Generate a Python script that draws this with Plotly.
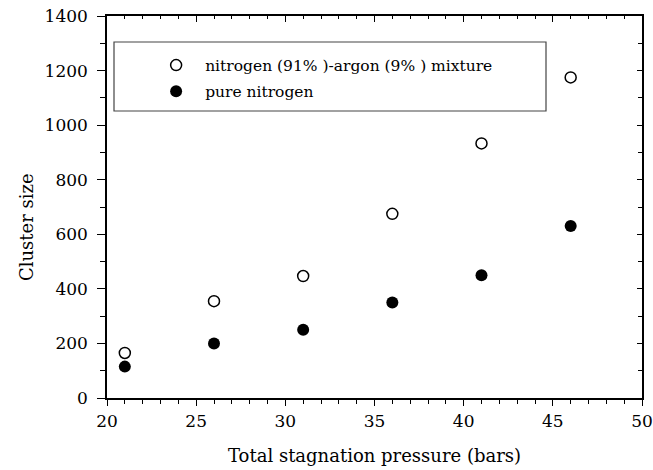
import plotly.graph_objects as go

pressure = [21, 26, 31, 36, 41, 46]
mixture = [165, 355, 447, 675, 933, 1175]
pure_n2 = [115, 200, 250, 350, 450, 630]
names = ["nitrogen (91% )-argon (9% ) mixture", "pure nitrogen"]
x_title = "Total stagnation pressure (bars)"
y_title = "Cluster size"

FONT = "DejaVu Serif"
fig = go.Figure()
fig.add_trace(go.Scatter(x=pressure, y=mixture, mode="markers", name=names[0],
                         legendgroup="a",
                         marker=dict(symbol="circle-open", size=11, color="black",
                                     line=dict(width=1.5, color="black"))))
fig.add_trace(go.Scatter(x=pressure, y=pure_n2, mode="markers", name=names[1],
                         legendgroup="b",
                         marker=dict(symbol="circle", size=12, color="black")))
# invisible trace for mirror axes
fig.add_trace(go.Scatter(x=[20], y=[0], xaxis="x2", yaxis="y2", mode="markers",
                         marker=dict(opacity=0), showlegend=False, hoverinfo="skip"))

common = dict(showline=True, linecolor="black", linewidth=1.5, showgrid=False,
              zeroline=False, tickcolor="black", tickwidth=1.2, automargin=False,
              tickfont=dict(family=FONT, size=17, color="black"))
fig.update_layout(
    width=653, height=470,
    margin=dict(l=107, r=11, t=16, b=72),
    plot_bgcolor="white", paper_bgcolor="white",
    font=dict(family=FONT, color="black"),
    xaxis=dict(range=[20, 50], dtick=5, ticks="outside", ticklen=6, ticklabelstandoff=1,
               minor=dict(dtick=1, ticks="outside", ticklen=4, tickcolor="black", tickwidth=1),
               **common),
    yaxis=dict(range=[0, 1400], dtick=200, ticks="outside", ticklen=8, ticklabelstandoff=6,
               minor=dict(dtick=100, ticks="outside", ticklen=5, tickcolor="black", tickwidth=1),
               **common),
    xaxis2=dict(range=[20, 50], dtick=5, overlaying="x", side="top", ticks="inside",
                ticklen=6, showticklabels=False,
                minor=dict(dtick=1, ticks="inside", ticklen=3, tickcolor="black", tickwidth=1),
                **common),
    yaxis2=dict(range=[0, 1400], dtick=200, overlaying="y", side="right", ticks="inside",
                ticklen=5, showticklabels=False,
                minor=dict(dtick=100, ticks="inside", ticklen=4, tickcolor="black", tickwidth=1),
                **common),
    legend=dict(x=0.075, y=0.915, xanchor="left", yanchor="top", bgcolor="rgba(0,0,0,0)",
                font=dict(family=FONT, size=15.5, color="black"), itemwidth=48,
                tracegroupgap=3),
    showlegend=True,
    annotations=[
        dict(text=x_title, xref="paper", yref="paper", x=0.5, y=-(455 - 398) / 382,
             xanchor="center", yanchor="middle", showarrow=False,
             font=dict(family=FONT, size=18, color="black")),
        dict(text=y_title, xref="paper", yref="paper", x=-(107 - 27) / 535,
             y=(398 - 227) / 382, xanchor="center", yanchor="middle", textangle=-90,
             showarrow=False, font=dict(family=FONT, size=18, color="black")),
    ],
    shapes=[dict(type="rect", xref="paper", yref="paper",
                 x0=(114 - 107) / 535, x1=(546 - 107) / 535,
                 y0=(398 - 111) / 382, y1=(398 - 42) / 382,
                 line=dict(color="#444", width=1.2))],
)
fig.write_html("out.html")
